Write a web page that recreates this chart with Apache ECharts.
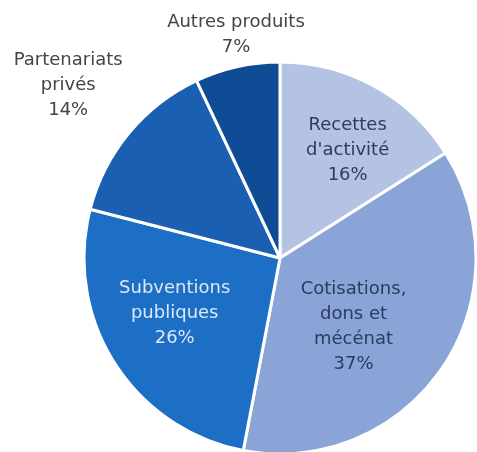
<!DOCTYPE html>
<html>
<head>
<meta charset="utf-8">
<script src="https://cdn.jsdelivr.net/npm/echarts@6/dist/echarts.min.js"></script>
<style>
  html, body { margin: 0; padding: 0; background: #fff; }
  #chart { width: 477px; height: 452px; }
</style>
</head>
<body>
<div id="chart"></div>
<script>
// données du graphique (sens horaire depuis midi)
var categories = ['Recettes\nd\'activité', 'Cotisations,\ndons et\nmécénat', 'Subventions\npubliques', 'Partenariats\nprivés', 'Autres produits'];
var percents = [16, 37, 26, 14, 7];
var colors = ['#b4c3e3', '#8aa4d8', '#1d6fc6', '#1b5fb2', '#0f4c95'];
var textColors = ['#2c3b5e', '#2c3b5e', '#dce8f8', '#444444', '#444444'];
// décalage des étiquettes par rapport à la position "inside"
var labelOffsets = [[19, -19], [-10, 12], [-20, 1], [-134, -108], [-22, -125]];

var data = categories.map(function (name, i) {
  return {
    name: name,
    value: percents[i],
    itemStyle: { color: colors[i] },
    label: { color: textColors[i], offset: labelOffsets[i] }
  };
});

var chart = echarts.init(document.getElementById('chart'));
chart.setOption({
  animation: false,
  series: [{
    type: 'pie',
    center: [280, 258],
    radius: [0, 196],
    startAngle: 90,
    clockwise: true,
    avoidLabelOverlap: false,
    itemStyle: { borderColor: '#ffffff', borderWidth: 3 },
    label: {
      show: true,
      position: 'inside',
      formatter: '{b}\n{c}%',
      fontFamily: 'DejaVu Sans',
      fontSize: 18,
      lineHeight: 25,
      align: 'center'
    },
    labelLine: { show: false },
    emphasis: { disabled: true },
    data: data
  }]
});
</script>
</body>
</html>
